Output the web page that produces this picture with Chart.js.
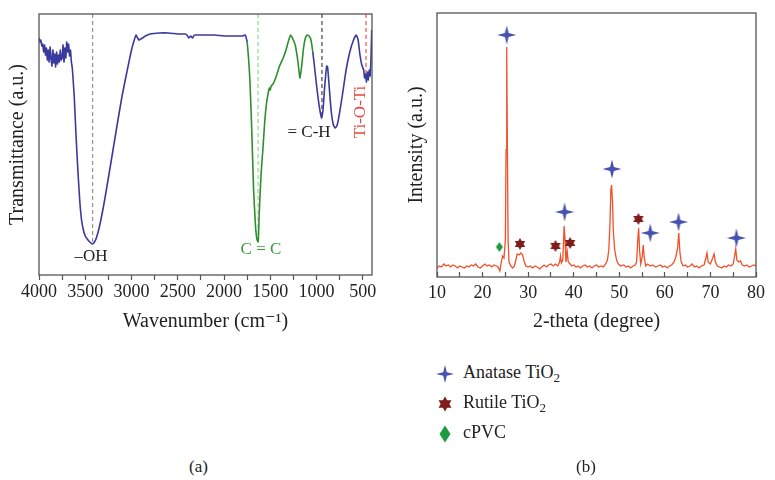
<!DOCTYPE html>
<html lang="en">
<head>
<meta charset="UTF-8" />
<title>FTIR and XRD</title>
<style>
  body { margin: 0; background: #fff; }
  #wrap { position: relative; width: 775px; height: 480px; font-family: "Liberation Serif", "DejaVu Serif", serif; color: #222; }
  .panel { position: absolute; top: 0; }
  .leg { position: absolute; left: 435px; font-size: 18px; line-height: 20px; }
  .leg canvas { vertical-align: middle; margin-right: 8px; }
  .leg sub { font-size: 13px; vertical-align: -4px; line-height: 0; }
  .cap { position: absolute; top: 457px; font-size: 17px; }
</style>
</head>
<body>
<div id="wrap">
  <canvas id="ftir" class="panel" style="left:0" width="390" height="340"></canvas>
  <canvas id="xrd" class="panel" style="left:390px" width="385" height="340"></canvas>

  <div class="leg" style="top:362px"><canvas id="icoA" width="20" height="20"></canvas>Anatase TiO<sub>2</sub></div>
  <div class="leg" style="top:392px"><canvas id="icoR" width="20" height="20"></canvas>Rutile TiO<sub>2</sub></div>
  <div class="leg" style="top:422px"><canvas id="icoC" width="20" height="20"></canvas>cPVC</div>

  <div class="cap" style="left:189px">(a)</div>
  <div class="cap" style="left:576px">(b)</div>
</div>

<script src="https://cdn.jsdelivr.net/npm/chart.js"></script>
<script>
  // FTIR spectrum (wavenumber in cm-1, transmittance a.u.)
  const ftirWave = [4000, 3990, 3980, 3970, 3960, 3950, 3940, 3930, 3920, 3910, 3900, 3890, 3880, 3870, 3860,
    3850, 3840, 3830, 3820, 3810, 3800, 3790, 3780, 3770, 3760, 3750, 3740, 3730, 3720, 3710, 3700, 3690,
    3680, 3670, 3660, 3650, 3640, 3620, 3600, 3580, 3560, 3540, 3520, 3500, 3470, 3440, 3420, 3400, 3380,
    3350, 3300, 3250, 3200, 3150, 3100, 3050, 3000, 2970, 2950, 2940, 2920, 2900, 2880, 2850, 2800, 2700,
    2600, 2500, 2420, 2400, 2380, 2360, 2340, 2320, 2300, 2200, 2100, 2000, 1900, 1800, 1770, 1750, 1720,
    1700, 1680, 1660, 1645, 1630, 1620, 1600, 1580, 1560, 1540, 1520, 1510, 1500, 1490, 1470, 1450, 1420,
    1400, 1380, 1360, 1330, 1300, 1280, 1260, 1230, 1200, 1180, 1160, 1140, 1120, 1100, 1080, 1060, 1040,
    1020, 1000, 980, 960, 945, 930, 910, 890, 880, 860, 840, 820, 800, 780, 760, 720, 680, 640, 600, 570,
    550, 530, 510, 490, 480, 470, 460, 450, 440, 430, 420, 410, 403];
  const ftirTrans = [237, 233, 235, 229, 231, 223, 230, 220, 227, 215, 225, 213, 228, 217, 209,
    225, 212, 221, 208, 223, 211, 220, 213, 225, 215, 217, 230, 213, 227, 217, 233, 223,
    231, 219, 225, 213, 207, 180, 140, 105, 75, 55, 45, 39, 35, 32, 31, 33, 37,
    47, 70, 97, 125, 153, 180, 203, 225, 235, 240, 238, 235, 236, 237, 239, 241, 242,
    242, 241, 241, 240, 237, 239, 237, 240, 240, 240, 240, 239, 239, 239, 240, 233, 195,
    145, 85, 50, 36, 33, 60, 100, 125, 153, 172, 183, 187, 185, 189, 191, 195, 203,
    209, 213, 217, 225, 235, 240, 237, 230, 213, 197, 209, 227, 237, 240, 239, 235, 223,
    207, 190, 175, 163, 157, 165, 190, 209, 208, 185, 163, 151, 147, 149, 157, 180, 205, 223, 235, 240,
    235, 220, 210, 205, 197, 201, 193, 203, 195, 205, 199, 220, 245];
  const ftirTicks = [4000, 3750, 3500, 3250, 3000, 2750, 2500, 2250, 2000, 1750, 1500, 1250, 1000, 750, 500];
  const greenFrom = 1750, greenTo = 1040;

  // band guide lines and labels
  const bandWave = [3420, 1632, 941, 465];
  const bandLow = [32, 33, 158, 202];
  const bandColor = ['#8a8a8a', '#7fd67f', '#333333', '#e8453c'];
  const bandLabels = ['\u2013OH', 'C = C', '= C-H', 'Ti-O-Ti'];
  const labelWave = [3438, 1600, 1081, 519];
  const labelTrans = [18, 25, 142, 163];

  // XRD pattern
  const xrdAngle = [10, 10.5, 11, 11.5, 12, 12.5, 13, 13.5, 14, 14.5, 15, 15.5, 16, 16.5, 17, 17.5, 18, 18.5,
    19, 19.5, 20, 20.5, 21, 21.5, 22, 22.5, 23, 23.4, 23.8, 24.1, 24.4, 24.7, 25.0, 25.15, 25.3, 25.45, 25.6,
    25.8, 26.2, 26.6, 27.0, 27.3, 27.6, 28.0, 28.4, 28.8, 29.1, 29.5, 30, 30.5, 31, 31.5, 32, 32.5, 33, 33.5,
    34, 34.5, 35, 35.5, 36, 36.5, 36.9, 37.1, 37.3, 37.6, 37.9, 38.1, 38.3, 38.6, 38.8, 39.2, 39.6, 40, 40.5,
    41, 41.5, 42, 42.5, 43, 43.5, 44, 44.5, 45, 45.5, 46, 46.5, 47, 47.4, 47.7, 47.95, 48.15, 48.3, 48.5,
    48.7, 49.0, 49.4, 49.8, 50.3, 51, 51.5, 52, 52.5, 53, 53.5, 53.8, 54.05, 54.25, 54.45, 54.7, 55.0, 55.25,
    55.5, 55.8, 56.2, 56.8, 57.3, 58, 58.5, 59, 59.5, 60, 60.5, 61, 61.5, 62, 62.4, 62.8, 63.05, 63.3, 63.6,
    64, 64.5, 65, 65.5, 66, 66.5, 67, 67.5, 68, 68.6, 69.0, 69.25, 69.5, 70.0, 70.5, 70.8, 71.1, 71.5, 72,
    72.5, 73, 73.5, 74, 74.5, 75.0, 75.3, 75.55, 75.8, 76.2, 76.6, 77, 77.5, 78, 78.5, 79, 79.5, 80];
  const xrdIntensity = [9, 11, 10, 13, 11, 12, 10, 12, 11, 9, 11, 10, 9, 11, 10, 12, 11, 13,
    10, 9, 11, 13, 11, 12, 10, 12, 11, 10, 6, 15, 21, 19, 37, 127, 230, 127, 37,
    15, 11, 9, 11, 17, 23, 22, 24, 22, 16, 11, 10, 11, 9, 11, 10, 8, 10, 12,
    10, 12, 13, 11, 13, 11, 15, 21, 14, 17, 51, 37, 15, 25, 15, 13, 11, 12, 10,
    11, 9, 11, 12, 10, 11, 9, 11, 12, 10, 11, 10, 13, 17, 27, 52, 87, 92, 77,
    45, 27, 17, 13, 11, 12, 10, 11, 9, 11, 12, 15, 37, 49, 27, 13, 19, 32,
    19, 11, 13, 11, 12, 10, 11, 12, 10, 11, 9, 11, 12, 15, 20, 29, 44, 25, 15,
    11, 12, 10, 11, 13, 10, 11, 9, 11, 12, 19, 24, 15, 13, 19, 23, 15, 11, 10,
    9, 11, 10, 12, 11, 13, 21, 28, 17, 15, 16, 12, 11, 12, 10, 11, 12, 11];
  const xrdTicks = [10, 15, 20, 25, 30, 35, 40, 45, 50, 55, 60, 65, 70, 75, 80];

  // phase markers
  const anataseAngle = [25.3, 38.0, 48.4, 56.8, 63.0, 75.7];
  const anataseMark = [242, 65, 108, 44, 55, 39];
  const rutileAngle = [28.2, 36.0, 39.2, 54.2];
  const rutileMark = [33, 31, 34, 58];
  const cpvcAngle = [23.7];
  const cpvcMark = [30];

  const SERIF = '"Liberation Serif", "DejaVu Serif", serif';
  const BLUE = '#3a3a9e', GREEN = '#2f8f2f', FRAME = '#555';
  const C_ANA = '#4651b0', C_RUT = '#7f1d1d', C_PVC = '#1f9a40';

  function pts(xs, ys) { return xs.map((x, i) => ({ x: x, y: ys[i] })); }

  // marker shapes
  function drawSparkle(ctx, cx, cy, r, color) {
    const k = r * 0.2;
    ctx.fillStyle = color;
    ctx.beginPath();
    ctx.moveTo(cx, cy - r); ctx.lineTo(cx + k, cy - k); ctx.lineTo(cx + r, cy);
    ctx.lineTo(cx + k, cy + k); ctx.lineTo(cx, cy + r); ctx.lineTo(cx - k, cy + k);
    ctx.lineTo(cx - r, cy); ctx.lineTo(cx - k, cy - k);
    ctx.closePath(); ctx.fill();
  }
  function drawHexStar(ctx, cx, cy, r, color) {
    ctx.fillStyle = color;
    for (let t = 0; t < 2; t++) {
      ctx.beginPath();
      for (let i = 0; i < 3; i++) {
        const a = -Math.PI / 2 + t * Math.PI + i * 2 * Math.PI / 3;
        const px = cx + r * Math.cos(a), py = cy + r * Math.sin(a);
        if (i === 0) ctx.moveTo(px, py); else ctx.lineTo(px, py);
      }
      ctx.closePath(); ctx.fill();
    }
  }
  function drawDiamond(ctx, cx, cy, w, h, color) {
    ctx.fillStyle = color;
    ctx.beginPath();
    ctx.moveTo(cx, cy - h / 2); ctx.lineTo(cx + w / 2, cy); ctx.lineTo(cx, cy + h / 2); ctx.lineTo(cx - w / 2, cy);
    ctx.closePath(); ctx.fill();
  }
  function icon(size, fn) {
    const c = document.createElement('canvas');
    c.width = size; c.height = size;
    fn(c.getContext('2d'), size / 2);
    return c;
  }
  const anaIcon = icon(20, (c, m) => drawSparkle(c, m, m, 9.5, C_ANA));
  const rutIcon = icon(14, (c, m) => drawHexStar(c, m, m, 6, C_RUT));
  const pvcIcon = icon(12, (c, m) => drawDiamond(c, m, m, 7, 10, C_PVC));

  drawSparkle(document.getElementById('icoA').getContext('2d'), 10, 10, 9, C_ANA);
  drawHexStar(document.getElementById('icoR').getContext('2d'), 10, 10, 7.5, C_RUT);
  drawDiamond(document.getElementById('icoC').getContext('2d'), 10, 10, 11, 17, C_PVC);

  const frame = {
    id: 'frame',
    afterDraw(chart) {
      const a = chart.chartArea, ctx = chart.ctx;
      ctx.save();
      ctx.strokeStyle = FRAME; ctx.lineWidth = 1.3;
      ctx.strokeRect(a.left, a.top, a.right - a.left, a.bottom - a.top);
      ctx.restore();
    }
  };

  const bandText = {
    id: 'bandText',
    afterDatasetsDraw(chart) {
      const ctx = chart.ctx, xs = chart.scales.x, ys = chart.scales.y;
      ctx.save();
      ctx.font = '17px ' + SERIF;
      ctx.textAlign = 'center'; ctx.textBaseline = 'middle';
      bandLabels.forEach((t, i) => {
        const px = xs.getPixelForValue(labelWave[i]), py = ys.getPixelForValue(labelTrans[i]);
        ctx.fillStyle = i === 1 ? '#3a9a3a' : (i === 3 ? '#e8453c' : '#222');
        if (i === 3) {
          ctx.save(); ctx.translate(px, py); ctx.rotate(-Math.PI / 2);
          ctx.fillText(t, 0, 0); ctx.restore();
        } else {
          ctx.fillText(t, px, py);
        }
      });
      ctx.restore();
    }
  };

  const guideSets = bandWave.map((w, i) => ({
    data: [{ x: w, y: 261 }, { x: w, y: bandLow[i] }],
    borderColor: bandColor[i], borderWidth: 1.1, borderDash: [4, 3],
    pointRadius: 0, order: 2
  }));

  new Chart(document.getElementById('ftir'), {
    type: 'line',
    data: {
      datasets: [{
        data: pts(ftirWave, ftirTrans),
        borderColor: BLUE, borderWidth: 1.6, pointRadius: 0, tension: 0.15, order: 1,
        segment: {
          borderColor: c => (c.p0.parsed.x <= greenFrom && c.p1.parsed.x >= greenTo) ? GREEN : BLUE
        }
      }].concat(guideSets)
    },
    options: {
      responsive: false, animation: false,
      layout: { padding: { top: 14, right: 18, left: 0, bottom: 0 } },
      plugins: { legend: { display: false }, tooltip: { enabled: false } },
      scales: {
        x: {
          type: 'linear', reverse: true, min: 400, max: 4000,
          afterBuildTicks: s => { s.ticks = ftirTicks.map(v => ({ value: v })); },
          afterFit: s => { s.height = 65; },
          border: { display: false },
          grid: { drawOnChartArea: false, drawTicks: true, tickLength: 5, color: FRAME, tickWidth: 1.2 },
          ticks: {
            autoSkip: false, maxRotation: 0, padding: 1, color: '#222',
            font: { family: SERIF, size: 18 },
            callback: v => (v % 500 === 0 ? String(v) : '')
          },
          title: { display: true, text: 'Wavenumber (cm\u207B\u00B9)', color: '#222',
            font: { family: SERIF, size: 20 }, padding: { bottom: 6, top: 0 } }
        },
        y: {
          type: 'linear', min: 0, max: 261,
          afterFit: s => { s.width = 39; },
          border: { display: false },
          grid: { display: false },
          ticks: { display: false },
          title: { display: true, text: 'Transmittance (a.u.)', color: '#222',
            font: { family: SERIF, size: 20 }, padding: { top: 6, bottom: 0 } }
        }
      }
    },
    plugins: [frame, bandText]
  });

  new Chart(document.getElementById('xrd'), {
    type: 'line',
    data: {
      datasets: [
        { data: pts(anataseAngle, anataseMark), showLine: false, pointStyle: anaIcon, pointRadius: 10, order: 0 },
        { data: pts(rutileAngle, rutileMark), showLine: false, pointStyle: rutIcon, pointRadius: 7, order: 0 },
        { data: pts(cpvcAngle, cpvcMark), showLine: false, pointStyle: pvcIcon, pointRadius: 6, order: 0 },
        { data: pts(xrdAngle, xrdIntensity), borderColor: '#f0502a', borderWidth: 1.3, pointRadius: 0, order: 1 }
      ]
    },
    options: {
      responsive: false, animation: false,
      layout: { padding: { top: 13, right: 12, left: 0, bottom: 0 } },
      plugins: { legend: { display: false }, tooltip: { enabled: false } },
      scales: {
        x: {
          type: 'linear', min: 10, max: 80,
          afterBuildTicks: s => { s.ticks = xrdTicks.map(v => ({ value: v })); },
          afterFit: s => { s.height = 63; },
          border: { display: false },
          grid: { drawOnChartArea: false, drawTicks: true, tickLength: -5, color: FRAME, tickWidth: 1.2 },
          ticks: {
            autoSkip: false, maxRotation: 0, padding: 10, color: '#222',
            font: { family: SERIF, size: 18 },
            callback: v => (v % 10 === 0 ? String(v) : '')
          },
          title: { display: true, text: '2-theta (degree)', color: '#222',
            font: { family: SERIF, size: 20 }, padding: { bottom: 6, top: 0 } }
        },
        y: {
          type: 'linear', min: 0, max: 264,
          afterFit: s => { s.width = 47; },
          border: { display: false },
          grid: { display: false },
          ticks: { display: false },
          title: { display: true, text: 'Intensity (a.u.)', color: '#222',
            font: { family: SERIF, size: 20 }, padding: { top: 15, bottom: 0 } }
        }
      }
    },
    plugins: [frame]
  });
</script>
</body>
</html>
